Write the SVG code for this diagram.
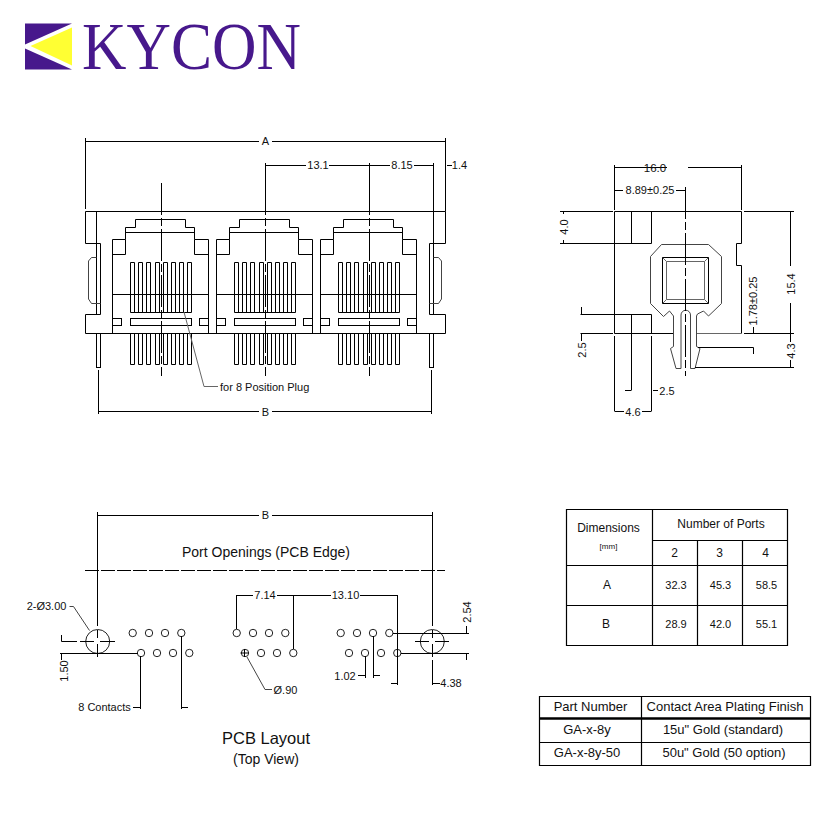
<svg xmlns="http://www.w3.org/2000/svg" xmlns:xlink="http://www.w3.org/1999/xlink" width="836" height="836" viewBox="0 0 836 836">
<style>
text{font-family:"Liberation Sans",Arial,sans-serif;font-size:11px;fill:#111;text-anchor:middle}
.s{fill:none;stroke:#000;stroke-width:1}
.g{fill:none;stroke:#444;stroke-width:1}
.l{fill:none;stroke:#666;stroke-width:1}
.c{fill:none;stroke:#000;stroke-width:1;stroke-dasharray:32 3 8 3}
.h{fill:#fff;stroke:#222;stroke-width:1}
.t{fill:none;stroke:#000;stroke-width:1.2}
.st{text-anchor:start}
</style>
<defs>
<g id="port">
<path class="s" d="M112.5 333.5V239.5H125.5V227.5H135.5V219.5H185.5V227.5H194.5V239.5H208.5V333.5"/>
<path class="s" d="M125.5 232.5H194.5M125.5 239.5V254.5H112.5M194.5 239.5V254.5H208.5M112.5 294.5H208.5"/>
<path class="s" d="M130.5 312.5V262.5H134.5V312.5M138.5 312.5V262.5H142.5V312.5M146.5 312.5V262.5H150.5V312.5M155.5 312.5V262.5H159.5V312.5M163.5 312.5V262.5H167.5V312.5M171.5 312.5V262.5H175.5V312.5M179.5 312.5V262.5H183.5V312.5M187.5 312.5V262.5H191.5V312.5H130.5"/>
<path class="s" d="M130.5 333.5V364.5H134.5V333.5M138.5 333.5V364.5H142.5V333.5M146.5 333.5V364.5H150.5V333.5M155.5 333.5V364.5H159.5V333.5M163.5 333.5V364.5H167.5V333.5M171.5 333.5V364.5H175.5V333.5M179.5 333.5V364.5H183.5V333.5M187.5 333.5V364.5H191.5V333.5"/>
<rect class="s" x="112.5" y="318.5" width="9" height="7"/>
<rect class="s" x="130.5" y="318.5" width="61" height="7"/>
<rect class="s" x="199.5" y="318.5" width="9" height="7"/>
<path class="c" d="M161.5 183V376"/>
</g>
<g id="row">
<circle class="h" cx="132.7" cy="633" r="3.7"/><circle class="h" cx="149" cy="633" r="3.7"/><circle class="h" cx="165" cy="633" r="3.7"/><circle class="h" cx="181.3" cy="633" r="3.7"/>
<circle class="h" cx="141" cy="653" r="3.7"/><circle class="h" cx="157" cy="653" r="3.7"/><circle class="h" cx="173" cy="653" r="3.7"/><circle class="h" cx="189.3" cy="653" r="3.7"/>
</g>
</defs>
<rect width="836" height="836" fill="#fff"/>

<g id="logo">
<polygon points="25,23.5 72,23.5 25,44.5" fill="#47188c"/>
<polygon points="25,48.5 72,69.5 25,69.5" fill="#47188c"/>
<polygon points="30.5,46 72,27.5 72,65.5" fill="#ffff33"/>
<text x="82" y="69" textLength="219" lengthAdjust="spacingAndGlyphs" style="font-family:'Liberation Serif','Times New Roman',serif;font-size:68px;fill:#47188c;text-anchor:start">KYCON</text>
</g>

<g id="front-view">
<path class="s" d="M85.5 211.5H445.5M85.5 211.5V243.5H100.5V314.5H85.5V333.5H445.5V314.5H429.5V243.5H445.5V211.5"/>
<path class="s" d="M96.5 211.5V314.5M433.5 243.5V314.5"/>
<path class="g" d="M96.5 257.5H91.5L88.5 261V299L91.5 303.5H100.5"/>
<path class="g" d="M433.5 257.5H438.5L441.5 261V299L438.5 303.5H429.5"/>
<rect class="s" x="96.5" y="333.5" width="4" height="34"/>
<rect class="s" x="429.5" y="333.5" width="4" height="34"/>
<use xlink:href="#port" href="#port"/>
<use xlink:href="#port" href="#port" x="104"/>
<use xlink:href="#port" href="#port" x="208"/>
</g>

<g id="front-dimensions">
<path class="s" d="M85.5 138V209M445.5 138V211.5M85.5 141.5H259M272 141.5H445.5"/>
<path class="s" d="M265.5 163V183M265.5 165.5H306M329 165.5H369.5M369.5 165.5H390M414 165.5H433.5M369.5 163V183M433.5 163V243M447 165.5H452"/>
<path class="s" d="M98.5 370V414M431.5 370V414M98.5 411.5H259M272 411.5H431.5"/>
<path class="l" d="M184 312L204 386.5H218"/>
<text x="265.5" y="145">A</text>
<text x="318" y="169">13.1</text>
<text x="402" y="169">8.15</text>
<text x="459.5" y="169">1.4</text>
<text x="265.5" y="416">B</text>
<text class="st" x="220" y="391">for 8 Position Plug</text>
</g>

<g id="side-view">
<path class="s" d="M614.5 211.5H741.5V243.5H736.5V265.5H741.5V333.5M614.5 211.5V333.5M614.5 243.5H651.5V211.5M631.5 211.5V243.5M614.5 314.5H651.5V333.5M631.5 314.5V333.5M614.5 333.5H673.5"/>
<path class="l" d="M696.5 333.5H741.5"/>
<path class="g" d="M661.5 244.5H708.5L721.5 256.5V303.5L708.5 316L703.5 311L697.5 314L696.5 316V346.5L700 348.5L695 368.5H690.5V315A4.7 4.7 0 0 0 681 315V368.5H676L670.5 348.5L673.5 346.5V316L669.5 311L663.5 316.5L650.5 303.5V256.5Z"/>
<rect class="s" x="662.5" y="257.5" width="46" height="46"/>
<path class="l" d="M666.5 261.5H704.5V299.5H666.5ZM662.5 257.5L666.5 261.5M708.5 257.5L704.5 261.5M662.5 303.5L666.5 299.5M708.5 303.5L704.5 299.5"/>
<path class="c" d="M685.5 187V376"/>
</g>

<g id="side-dimensions">
<path class="s" d="M614.5 165V210M741.5 165V210M614.5 167.5H667M688 167.5H741.5"/>
<path class="s" d="M614.5 190.5H623M676 190.5H685.5"/>
<path class="s" d="M560 211.5H613M744 211.5H794M560 243.5H614.5M563.5 211.5V214M563.5 240V243.5"/>
<path class="s" d="M580.5 314.5H614.5M581.5 307V314.5M581.5 333.5V341M580.5 333.5H613"/>
<path class="s" d="M614.5 336V411M631.5 333.5V390M651.5 336V411M625 390.5H631.5M653 390.5H658M614.5 411.5H624M642 411.5H651.5"/>
<path class="s" d="M744 333.5H794M753.5 327V333.5M698 347.5H753.5M753.5 347.5V354M695 367.5H794"/>
<path class="s" d="M790.5 211.5V266M790.5 303V342M790.5 360V367.5"/>
<text x="655" y="171.500" style="font-size:11.500px">16.0</text>
<text x="650" y="194">8.89±0.25</text>
<text transform="rotate(-90 568 227)" x="568" y="227">4.0</text>
<text transform="rotate(-90 586 350)" x="586" y="350">2.5</text>
<text x="667" y="394.500">2.5</text>
<text x="633" y="415.500">4.6</text>
<text transform="rotate(-90 757 301)" x="757" y="301">1.78±0.25</text>
<text transform="rotate(-90 795 284)" x="795" y="284">15.4</text>
<text transform="rotate(-90 795 351)" x="795" y="351">4.3</text>
</g>

<g id="pcb-layout">
<circle class="h" cx="97.7" cy="641.5" r="12"/>
<circle class="h" cx="432.3" cy="641.5" r="12"/>
<use xlink:href="#row" href="#row"/>
<use xlink:href="#row" href="#row" x="104"/>
<use xlink:href="#row" href="#row" x="208"/>
<path class="s" d="M240.5 653H248.5M244.5 649V657"/>
<path class="s" d="M97.5 512V626M97.5 630V638M97.5 644V657M432.5 512V626M432.5 630V638M432.5 644V657M432.5 660V685"/>
<path class="s" d="M80 641.5H94M100 641.5H115M415 641.5H429M435 641.5H449"/>
<path class="s" d="M97.5 515.5H259M272 515.5H432.5"/>
<path class="s" stroke-dasharray="14 2" d="M85 570.500H445"/>
<path class="s" d="M61.500 641.500H77M61.500 635V641.500M60 653.500H138M61.500 653.500V660"/>
<path class="g" d="M69.500 606.500H73.500L89.500 630.500"/>
<path class="s" d="M140.500 656V709M133 707.500H140.500M181.500 636V709M181.500 707.500H188"/>
<path class="s" d="M236.500 595V629M236.500 595.500H253M277 595.500H293.500M293.500 595V649M293.500 595.500H331M360 595.500H397.500M397.500 595V685M391 683.500H397.500"/>
<path class="s" d="M393 633.500H469M401 653.500H469M466.500 626V633M466.500 654V660"/>
<path class="s" d="M365.500 656V678M373.500 636V678M358 675.500H365.500M373.500 675.500H380"/>
<path class="s" d="M432.500 683.500H440"/>
<path class="g" d="M247 657L265 689.500H272"/>
<text x="46.500" y="610">2-Ø3.00</text>
<text x="104.500" y="711">8 Contacts</text>
<text x="265" y="599">7.14</text>
<text x="345.500" y="599">13.10</text>
<text x="345" y="679.500">1.02</text>
<text x="451" y="687">4.38</text>
<text x="285.500" y="694">Ø.90</text>
<text transform="rotate(-90 68 671)" x="68" y="671">1.50</text>
<text transform="rotate(-90 471 612)" x="471" y="612">2.54</text>
<text x="266" y="557" style="font-size:14px">Port Openings (PCB Edge)</text>
<text x="266" y="744" style="font-size:16.500px">PCB Layout</text>
<text x="266" y="764" style="font-size:14px">(Top View)</text>
<text x="265.500" y="519">B</text>
</g>

<g id="dimensions-table">
<path class="t" d="M566.500 509.500H787.500V645.500H566.500ZM652.500 509.500V645.500M652.500 540.500H787.500M697.500 540.500V645.500M742.500 540.500V645.500M566.500 565.500H787.500M566.500 605.500H787.500"/>
<text x="608.500" y="532" style="font-size:12px">Dimensions</text>
<text x="608.500" y="549" style="font-size:8px">[mm]</text>
<text x="721" y="528" style="font-size:12px">Number of Ports</text>
<text x="674.500" y="557" style="font-size:12px">2</text>
<text x="719.500" y="557" style="font-size:12px">3</text>
<text x="765.500" y="557" style="font-size:12px">4</text>
<text x="607" y="589" style="font-size:12px">A</text>
<text x="606" y="628" style="font-size:12px">B</text>
<text x="676" y="589">32.3</text>
<text x="720.500" y="589">45.3</text>
<text x="766.500" y="589">58.5</text>
<text x="676" y="628">28.9</text>
<text x="720.500" y="628">42.0</text>
<text x="766.500" y="628">55.1</text>
</g>

<g id="plating-table">
<path class="t" d="M539.500 696.500H810.500V765.500H539.500ZM641.500 696.500V765.500M539.500 742.500H810.500"/>
<path d="M539 718.500H811" fill="none" stroke="#000" stroke-width="2.500"/>
<text x="590.500" y="711" style="font-size:13px">Part Number</text>
<text x="725" y="711" style="font-size:13px">Contact Area Plating Finish</text>
<text x="587" y="734" style="font-size:13px">GA-x-8y</text>
<text x="587" y="757" style="font-size:13px">GA-x-8y-50</text>
<text x="723" y="734" style="font-size:13px">15u" Gold (standard)</text>
<text x="724" y="757" style="font-size:13px">50u" Gold (50 option)</text>
</g>
</svg>
